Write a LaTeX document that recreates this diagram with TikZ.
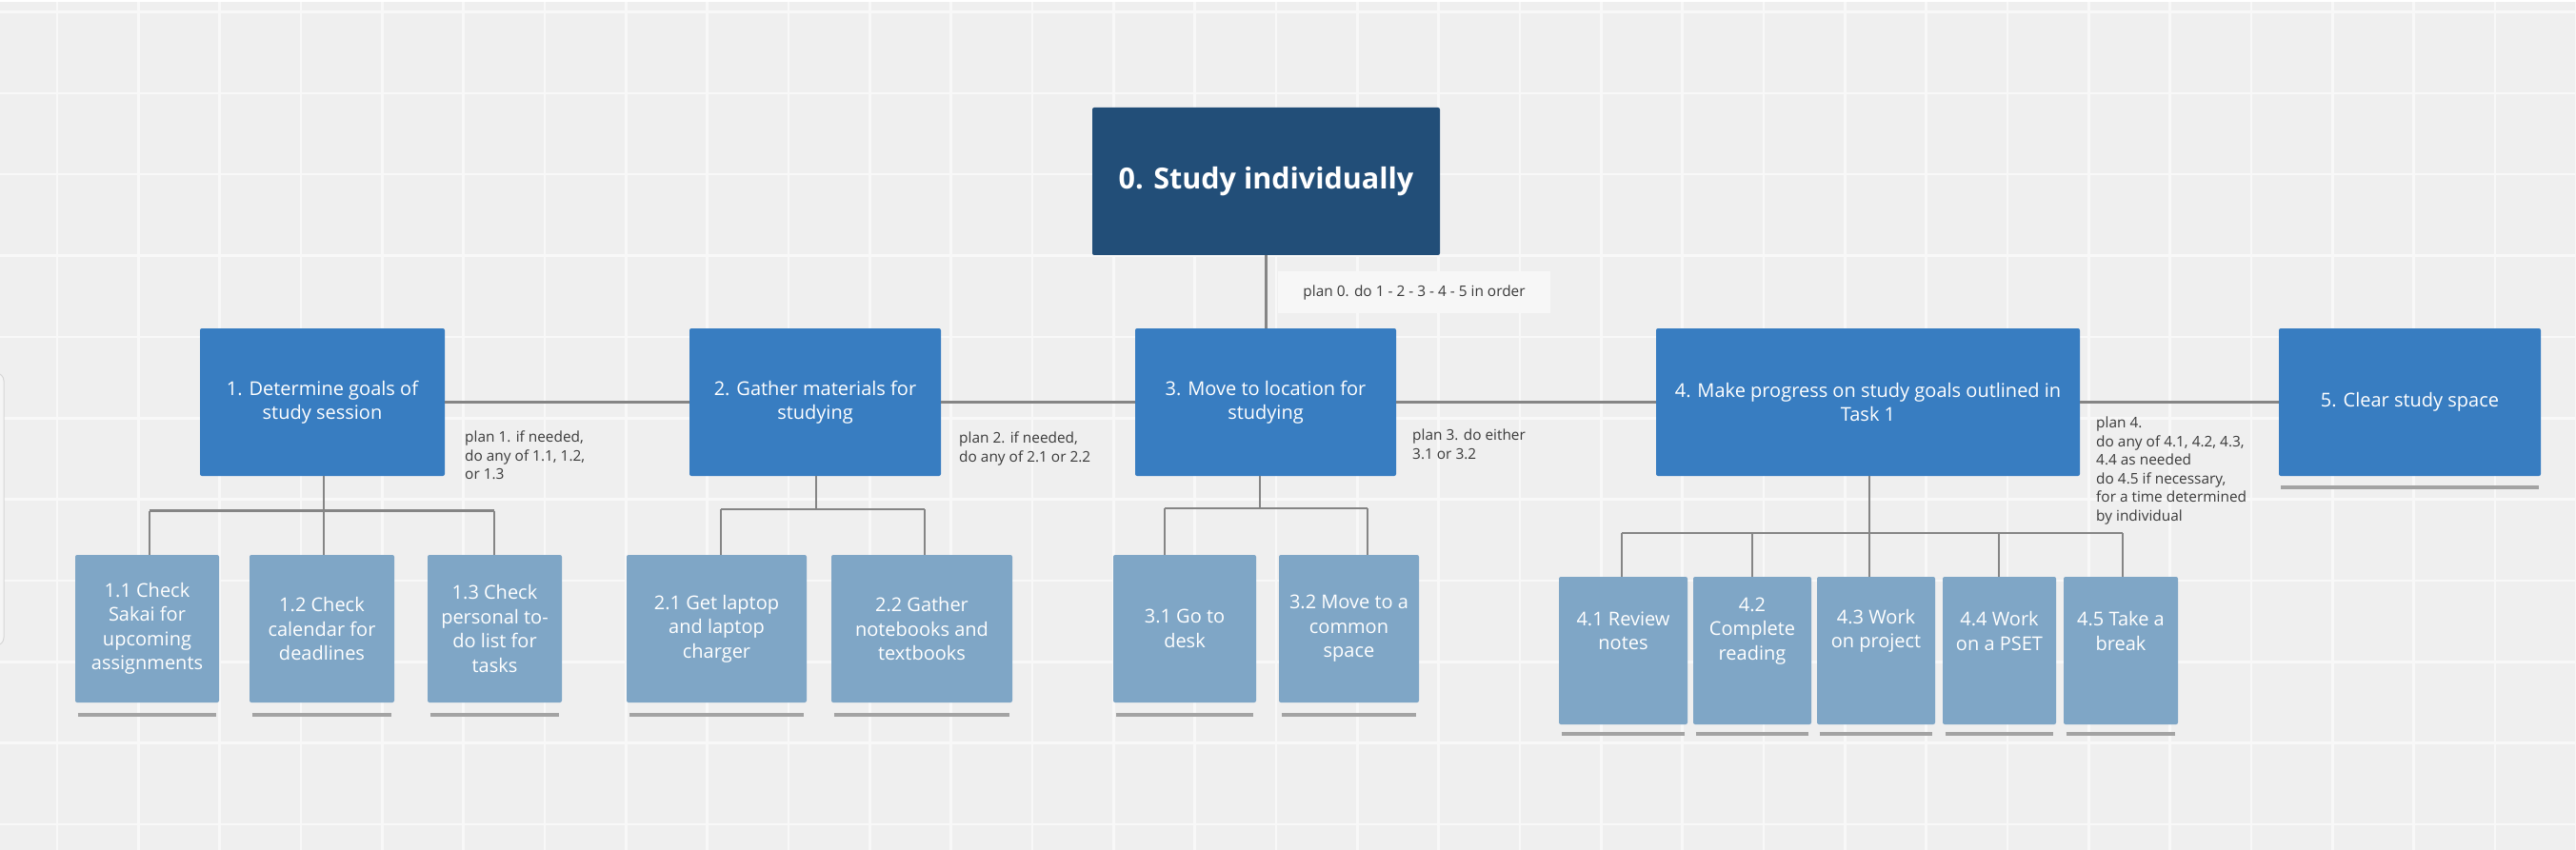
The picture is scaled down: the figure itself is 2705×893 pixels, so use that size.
\documentclass[tikz,border=0pt]{standalone}
\usepackage{fontspec}
\setmainfont{Open Sans}
\definecolor{bg}{HTML}{EFEFEF}
\definecolor{gridc}{HTML}{F8F8F8}
\definecolor{darkbox}{HTML}{224E78}
\definecolor{midbox}{HTML}{387DC1}
\definecolor{lightbox}{HTML}{7FA6C6}
\definecolor{connc}{HTML}{858585}
\definecolor{ulc}{HTML}{A3A3A3}
\definecolor{plantext}{HTML}{3A3A3A}
\definecolor{planfill}{HTML}{F7F7F7}
\tikzset{
  boxbase/.style={rectangle, rounded corners=2pt, inner sep=0pt, align=center, text=white, minimum height=155pt},
  rootbox/.style={boxbase, fill=darkbox, font=\fontsize{30.5}{36}\selectfont\bfseries},
  lvlone/.style={boxbase, fill=midbox, font=\fontsize{20}{25.5}\selectfont},
  lvltwo/.style={boxbase, fill=lightbox, font=\fontsize{20}{25.5}\selectfont},
  boxtext/.style={inner sep=0pt, align=center, text=white, font=\fontsize{20}{25.5}\selectfont},
  plantxt/.style={inner sep=0pt, align=left, text=plantext, anchor=north west, font=\fontsize{15.4}{19.6}\selectfont},
  planbox/.style={rectangle, fill=planfill, inner sep=0pt, text=plantext, minimum width=286pt, minimum height=44pt, font=\fontsize{15.4}{19.6}\selectfont},
  conn/.style={draw=connc, line width=2.4pt},
  uline/.style={draw=ulc, line width=3.6pt},
  gridline/.style={draw=gridc, line width=2.6pt}
}
\begin{document}
\begin{tikzpicture}[x=1pt,y=-1pt]
\useasboundingbox (0,0) rectangle (2705,893);
\fill[bg] (0,0) rectangle (2705,893);
\foreach \i in {0,...,31} \draw[gridline] ({60+85.33*\i},0) -- ({60+85.33*\i},893);
\foreach \j in {0,...,10} \draw[gridline] (0,{12.5+85.35*\j}) -- (2705,{12.5+85.35*\j});
\fill[white] (0,0) rectangle (2705,2);
\draw[black!16, fill=black!4, line width=1pt, rounded corners=8pt] (-20,392) rectangle (4,678);

% root
\node[rootbox, minimum width=365pt] (n0) at (1329.5,190.5) {0. Study individually};
\node[planbox] (p0) at (1485,307) {plan 0. do 1 - 2 - 3 - 4 - 5 in order};

% level 1
\node[lvlone, minimum width=257pt] (n1) at (338.5,422.5) {1. Determine goals of\\study session};
\node[lvlone, minimum width=264pt] (n2) at (856,422.5) {2. Gather materials for\\studying};
\node[lvlone, minimum width=274pt] (n3) at (1329,422.5) {3. Move to location for\\studying};
\node[lvlone, minimum width=445pt] (n4) at (1961.5,422.5) {4. Make progress on study goals outlined in\\Task 1};
\node[lvlone, minimum width=275pt] (n5) at (2530.5,422.5) {5. Clear study space};

% plans
\node[plantxt] (p1) at (488,452.5) {plan 1. if needed,\\do any of 1.1, 1.2,\\or 1.3};
\node[plantxt] (p2) at (1007,454) {plan 2. if needed,\\do any of 2.1 or 2.2};
\node[plantxt] (p3) at (1483,451) {plan 3. do either\\3.1 or 3.2};
\node[plantxt] (p4) at (2201,437.5) {plan 4.\\do any of 4.1, 4.2, 4.3,\\4.4 as needed\\do 4.5 if necessary,\\for a time determined\\by individual};

% level 2
\node[lvltwo, minimum width=151pt] (n11) at (154.5,660.5) {1.1 Check\\Sakai for\\upcoming\\assignments};
\node[lvltwo, minimum width=152pt] (n12) at (338,660.5) {1.2 Check\\calendar for\\deadlines};
\node[lvltwo, minimum width=141pt] (n13) at (519.5,660.5) {1.3 Check\\personal to-\\do list for\\tasks};
\node[lvltwo, minimum width=189pt] (n21) at (752.5,660.5) {2.1 Get laptop\\and laptop\\charger};
\node[lvltwo, minimum width=190pt] (n22) at (968,660.5) {2.2 Gather\\notebooks and\\textbooks};
\node[lvltwo, minimum width=150pt] (n31) at (1244,660.5) {3.1 Go to\\desk};
\node[lvltwo, minimum width=147pt] (n32) at (1416.5,660.5) {3.2 Move to a\\common\\space};

\node[lvltwo, minimum width=135pt] (n41) at (1704.5,683.5) {};
\node[lvltwo, minimum width=124pt] (n42) at (1840,683.5) {};
\node[lvltwo, minimum width=124pt] (n43) at (1970,683.5) {};
\node[lvltwo, minimum width=119pt] (n44) at (2099.5,683.5) {};
\node[lvltwo, minimum width=120pt] (n45) at (2227,683.5) {};
\node[boxtext] (t41) at (1704.5,663) {4.1 Review\\notes};
\node[boxtext] (t42) at (1840,663) {4.2\\Complete\\reading};
\node[boxtext] (t43) at (1970,663) {4.3 Work\\on project};
\node[boxtext] (t44) at (2099.5,663) {4.4 Work\\on a PSET};
\node[boxtext] (t45) at (2227,663) {4.5 Take a\\break};

% connectors level 0-1
\draw[conn] (n0.south) -- (n0.south |- n3.north);
\draw[conn] (n1.east) -- (n2.west);
\draw[conn] (n2.east) -- (n3.west);
\draw[conn] (n3.east) -- (n4.west);
\draw[conn] (n4.east) -- (n5.west);

% bus 1
\coordinate (b1l) at (157,536.5);
\coordinate (b1m) at (340,536.5);
\coordinate (b1r) at (519,536.5);
\draw[conn] (n1.south -| b1m) -- (b1m);
\draw[conn] (b1l) -- (b1r);
\draw[conn] (b1l) -- (b1l |- n11.north);
\draw[conn] (b1m) -- (b1m |- n12.north);
\draw[conn] (b1r) -- (b1r |- n13.north);

% bus 2
\coordinate (b2l) at (757,535);
\coordinate (b2m) at (857,535);
\coordinate (b2r) at (971,535);
\draw[conn] (n2.south -| b2m) -- (b2m);
\draw[conn] (b2l) -- (b2r);
\draw[conn] (b2l) -- (b2l |- n21.north);
\draw[conn] (b2r) -- (b2r |- n22.north);

% bus 3
\coordinate (b3l) at (1223,534);
\coordinate (b3m) at (1323,534);
\coordinate (b3r) at (1436,534);
\draw[conn] (n3.south -| b3m) -- (b3m);
\draw[conn] (b3l) -- (b3r);
\draw[conn] (b3l) -- (b3l |- n31.north);
\draw[conn] (b3r) -- (b3r |- n32.north);

% bus 4
\coordinate (b4a) at (1703,560);
\coordinate (b4b) at (1840,560);
\coordinate (b4c) at (1963,560);
\coordinate (b4d) at (2099,560);
\coordinate (b4e) at (2229,560);
\draw[conn] (n4.south -| b4c) -- (b4c);
\draw[conn] (b4a) -- (b4e);
\draw[conn] (b4a) -- (b4a |- n41.north);
\draw[conn] (b4b) -- (b4b |- n42.north);
\draw[conn] (b4c) -- (b4c |- n43.north);
\draw[conn] (b4d) -- (b4d |- n44.north);
\draw[conn] (b4e) -- (b4e |- n45.north);

% underlines
\foreach \n in {n11,n12,n13,n21,n22,n31,n32}
  \draw[uline] ([xshift=3pt,yshift=-13pt]\n.south west) -- ([xshift=-3pt,yshift=-13pt]\n.south east);
\foreach \n in {n41,n42,n43,n44,n45}
  \draw[uline] ([xshift=3pt,yshift=-10pt]\n.south west) -- ([xshift=-3pt,yshift=-10pt]\n.south east);
\draw[uline] ([xshift=2pt,yshift=-12pt]n5.south west) -- ([xshift=-2pt,yshift=-12pt]n5.south east);
\end{tikzpicture}
\end{document}
